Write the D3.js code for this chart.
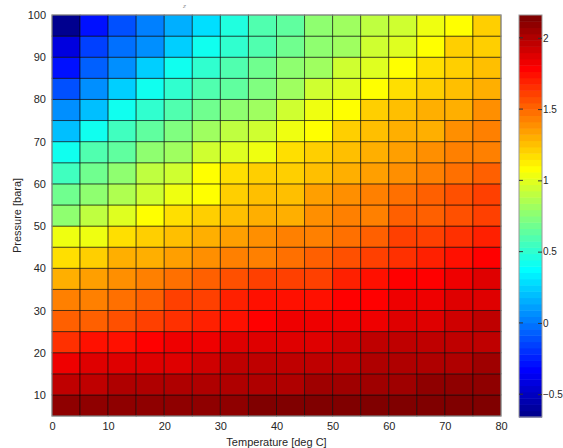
<!DOCTYPE html>
<html>
<head>
<meta charset="utf-8">
<script src="https://cdn.jsdelivr.net/npm/d3@7"></script>
<style>
  html, body { margin: 0; padding: 0; background: #fff; }
  svg { display: block; font-family: "Liberation Sans", Arial, sans-serif; }
</style>
</head>
<body>
<svg id="chart" width="563" height="448"></svg>
<script>
// ---- data ----
const temperatures = [0, 5, 10, 15, 20, 25, 30, 35, 40, 45, 50, 55, 60, 65, 70, 75]; // cell left edges [deg C]
const cellWidth = 5;
const pressures = [5, 10, 15, 20, 25, 30, 35, 40, 45, 50, 55, 60, 65, 70, 75, 80, 85, 90, 95]; // cell bottom edges [bara]
const cellHeight = 5;

const z_p05 = [2.08, 2.08, 2.09, 2.09, 2.08, 2.11, 2.11, 2.12, 2.12, 2.12, 2.12, 2.14, 2.15, 2.15, 2.16, 2.14];
const z_p10 = [1.95, 1.95, 1.99, 1.99, 1.99, 2.01, 2.01, 2.02, 2.02, 2.04, 2.04, 2.05, 2.05, 2.08, 2.08, 2.09];
const z_p15 = [1.81, 1.88, 1.88, 1.89, 1.89, 1.92, 1.94, 1.94, 1.95, 1.97, 1.97, 1.99, 2.01, 2.01, 2.02, 2.04];
const z_p20 = [1.65, 1.72, 1.75, 1.77, 1.81, 1.81, 1.87, 1.87, 1.88, 1.89, 1.92, 1.94, 1.94, 1.95, 1.95, 1.97];
const z_p25 = [1.51, 1.54, 1.58, 1.61, 1.65, 1.68, 1.74, 1.77, 1.81, 1.81, 1.84, 1.84, 1.88, 1.89, 1.92, 1.94];
const z_p30 = [1.42, 1.45, 1.49, 1.54, 1.60, 1.63, 1.70, 1.72, 1.74, 1.76, 1.77, 1.80, 1.81, 1.84, 1.87, 1.89];
const z_p35 = [1.30, 1.33, 1.38, 1.42, 1.47, 1.51, 1.56, 1.60, 1.61, 1.63, 1.68, 1.74, 1.77, 1.79, 1.81, 1.87];
const z_p40 = [1.17, 1.20, 1.28, 1.31, 1.35, 1.38, 1.44, 1.45, 1.49, 1.51, 1.56, 1.61, 1.67, 1.69, 1.75, 1.77];
const z_p45 = [1.02, 1.05, 1.17, 1.20, 1.26, 1.30, 1.33, 1.38, 1.42, 1.44, 1.47, 1.52, 1.60, 1.63, 1.65, 1.68];
const z_p50 = [0.79, 0.90, 1.00, 1.10, 1.16, 1.20, 1.27, 1.31, 1.32, 1.38, 1.42, 1.45, 1.51, 1.54, 1.58, 1.63];
const z_p55 = [0.70, 0.79, 0.88, 0.95, 1.03, 1.10, 1.20, 1.24, 1.26, 1.34, 1.38, 1.43, 1.47, 1.51, 1.55, 1.60];
const z_p60 = [0.54, 0.68, 0.79, 0.89, 0.93, 1.10, 1.17, 1.20, 1.22, 1.26, 1.30, 1.35, 1.38, 1.44, 1.47, 1.52];
const z_p65 = [0.40, 0.58, 0.65, 0.75, 0.82, 0.93, 1.00, 1.03, 1.16, 1.20, 1.24, 1.30, 1.33, 1.38, 1.42, 1.45];
const z_p70 = [0.22, 0.40, 0.54, 0.65, 0.72, 0.82, 0.89, 0.96, 1.02, 1.10, 1.20, 1.24, 1.28, 1.30, 1.38, 1.42];
const z_p75 = [0.08, 0.21, 0.40, 0.50, 0.61, 0.68, 0.75, 0.82, 0.93, 1.02, 1.10, 1.20, 1.24, 1.28, 1.31, 1.37];
const z_p80 = [-0.12, 0.06, 0.25, 0.40, 0.50, 0.61, 0.65, 0.72, 0.82, 0.93, 1.00, 1.10, 1.17, 1.20, 1.26, 1.30];
const z_p85 = [-0.28, -0.06, 0.08, 0.25, 0.40, 0.50, 0.61, 0.68, 0.75, 0.82, 0.93, 1.00, 1.10, 1.17, 1.22, 1.26];
const z_p90 = [-0.40, -0.17, -0.03, 0.08, 0.25, 0.40, 0.50, 0.61, 0.68, 0.79, 0.82, 0.93, 1.00, 1.10, 1.20, 1.22];
const z_p95 = [-0.66, -0.30, -0.13, 0.04, 0.16, 0.29, 0.47, 0.58, 0.65, 0.75, 0.82, 0.91, 0.95, 1.02, 1.10, 1.20];

const zRows = [z_p05, z_p10, z_p15, z_p20, z_p25, z_p30, z_p35, z_p40, z_p45, z_p50,
               z_p55, z_p60, z_p65, z_p70, z_p75, z_p80, z_p85, z_p90, z_p95];

const colorLimits = [-0.66, 2.16];
const xTicks = [0, 10, 20, 30, 40, 50, 60, 70, 80];
const yTicks = [10, 20, 30, 40, 50, 60, 70, 80, 90, 100];
const cbTicks = [-0.5, 0, 0.5, 1, 1.5, 2];
const xLabel = "Temperature [deg C]";
const yLabel = "Pressure [bara]";

// ---- MATLAB jet(64) colormap ----
function jetMap(m) {
  const n = Math.ceil(m / 4);
  const u = [];
  for (let i = 1; i <= n; i++) u.push(i / n);
  for (let i = 1; i < n; i++) u.push(1);
  for (let i = n; i >= 1; i--) u.push(i / n);
  const gStart = Math.ceil(n / 2) - (m % 4 === 1 ? 1 : 0);
  const J = Array.from({length: m}, () => [0, 0, 0]);
  u.forEach((val, i) => {
    const g = gStart + i + 1; // 1-based
    const r = g + n, b = g - n;
    if (g >= 1 && g <= m) J[g - 1][1] = val;
    if (r >= 1 && r <= m) J[r - 1][0] = val;
    if (b >= 1 && b <= m) J[b - 1][2] = val;
  });
  return J.map(c => d3.rgb(c[0] * 255, c[1] * 255, c[2] * 255).formatHex());
}
const jet = jetMap(64);
const colorScale = d3.scaleQuantize().domain(colorLimits).range(jet);

// ---- layout ----
const svg = d3.select("#chart");
const plot = {left: 52, right: 501, top: 15, bottom: 416};
const x = d3.scaleLinear().domain([0, 80]).range([plot.left, plot.right]);
const y = d3.scaleLinear().domain([5, 100]).range([plot.bottom, plot.top]);

svg.append("rect").attr("width", 563).attr("height", 448).attr("fill", "#fff");

// cells
const cells = [];
zRows.forEach((row, i) => row.forEach((v, j) => cells.push({t: temperatures[j], p: pressures[i], v})));
svg.append("g").selectAll("rect").data(cells).join("rect")
  .attr("x", d => x(d.t))
  .attr("y", d => y(d.p + cellHeight))
  .attr("width", d => x(d.t + cellWidth) - x(d.t))
  .attr("height", d => y(d.p) - y(d.p + cellHeight))
  .attr("fill", d => colorScale(d.v))
  .attr("stroke", "rgba(0,0,0,0.55)")
  .attr("stroke-width", 1);

// frame
svg.append("rect")
  .attr("x", plot.left).attr("y", plot.top)
  .attr("width", plot.right - plot.left).attr("height", plot.bottom - plot.top)
  .attr("fill", "none").attr("stroke", "#9a9a9a").attr("stroke-width", 1);

// axes
const xAxis = svg.append("g").attr("transform", `translate(0,${plot.bottom})`)
  .call(d3.axisBottom(x).tickValues(xTicks).tickSize(0).tickPadding(6));
const yAxis = svg.append("g").attr("transform", `translate(${plot.left},0)`)
  .call(d3.axisLeft(y).tickValues(yTicks).tickSize(0).tickPadding(6));
[xAxis, yAxis].forEach(a => {
  a.select(".domain").remove();
  a.selectAll("text").attr("fill", "#262626").style("font-size", "11px");
});

svg.append("text")
  .attr("x", (plot.left + plot.right) / 2).attr("y", 446)
  .attr("text-anchor", "middle").attr("fill", "#262626").style("font-size", "11px")
  .text(xLabel);
svg.append("text")
  .attr("transform", `translate(21,${(plot.top + plot.bottom) / 2}) rotate(-90)`)
  .attr("text-anchor", "middle").attr("fill", "#262626").style("font-size", "11px")
  .text(yLabel);

// tiny mark above the plot
svg.append("text").attr("x", 183).attr("y", 8).attr("fill", "#999")
  .style("font-size", "6px").style("font-style", "italic").text("z");

// ---- colorbar ----
const cb = {left: 519, right: 542, top: 15, bottom: 417};
const cy = d3.scaleLinear().domain(colorLimits).range([cb.bottom, cb.top]);
const step = (colorLimits[1] - colorLimits[0]) / jet.length;
svg.append("g").selectAll("rect").data(jet).join("rect")
  .attr("x", cb.left)
  .attr("y", (c, i) => cy(colorLimits[0] + (i + 1) * step))
  .attr("width", cb.right - cb.left)
  .attr("height", (c, i) => cy(colorLimits[0] + i * step) - cy(colorLimits[0] + (i + 1) * step) + 0.5)
  .attr("fill", c => c);
svg.append("rect")
  .attr("x", cb.left).attr("y", cb.top)
  .attr("width", cb.right - cb.left).attr("height", cb.bottom - cb.top)
  .attr("fill", "none").attr("stroke", "#9a9a9a");

const cbAxis = svg.append("g").attr("transform", `translate(${cb.right},0)`)
  .call(d3.axisRight(cy).tickValues(cbTicks).tickSize(-4).tickPadding(1).tickFormat(d3.format("")));
cbAxis.select(".domain").remove();
cbAxis.selectAll("line").attr("stroke", "#333");
cbAxis.selectAll("text").attr("fill", "#262626").style("font-size", "10px");
svg.append("g").selectAll("line").data(cbTicks).join("line")
  .attr("x1", cb.left).attr("x2", cb.left + 4)
  .attr("y1", d => cy(d)).attr("y2", d => cy(d))
  .attr("stroke", "#333");
</script>
</body>
</html>
